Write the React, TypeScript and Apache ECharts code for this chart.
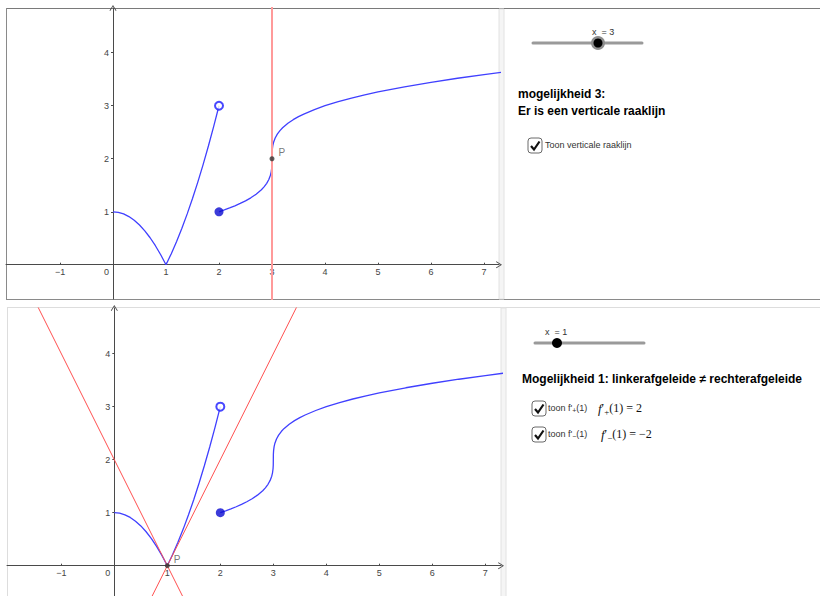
import React, { useEffect, useRef } from "react";
import * as echarts from "echarts";

// f(x) = 1 - x^2 on [0,1]
const arcX = [0, 0.1, 0.2, 0.3, 0.4, 0.5, 0.6, 0.7, 0.8, 0.9, 1];
const arcY = [1, 0.99, 0.96, 0.91, 0.84, 0.75, 0.64, 0.51, 0.36, 0.19, 0];
// f(x) = x^2 - 1 on [1,2)
const riseX = [1, 1.1, 1.2, 1.3, 1.4, 1.5, 1.6, 1.7, 1.8, 1.9, 2];
const riseY = [0, 0.21, 0.44, 0.69, 0.96, 1.25, 1.56, 1.89, 2.24, 2.61, 3];
// f(x) = 2 + cbrt(x - 3) on [2, ...)
const rootX = [2, 2.1, 2.2, 2.3, 2.4, 2.5, 2.6, 2.7, 2.8, 2.85, 2.9, 2.94, 2.97, 2.985, 2.995, 2.999, 3, 3.001, 3.005, 3.015, 3.03, 3.06, 3.1, 3.15, 3.2, 3.3, 3.4, 3.5, 3.6, 3.8, 4, 4.25, 4.5, 4.75, 5, 5.5, 6, 6.5, 7, 7.4];
const rootY = [1, 1.035, 1.072, 1.112, 1.157, 1.206, 1.263, 1.331, 1.415, 1.469, 1.536, 1.609, 1.689, 1.753, 1.829, 1.9, 2, 2.1, 2.171, 2.247, 2.311, 2.391, 2.464, 2.531, 2.585, 2.669, 2.737, 2.794, 2.843, 2.928, 3, 3.077, 3.145, 3.205, 3.26, 3.357, 3.442, 3.518, 3.587, 3.639];

const openPoint = [2, 3];
const filledPoint = [2, 1];
const pointTop = [3, 2];
const pointBottom = [1, 0];

const verticalX = [3, 3];
const verticalY = [-1, 6];
const tangentLeftX = [-2.5, 2];
const tangentLeftY = [7, -2];
const tangentRightX = [0, 4.5];
const tangentRightY = [-2, 7];

const xTickValues = [-1, 0, 1, 2, 3, 4, 5, 6, 7];
const yTickValues = [1, 2, 3, 4];

const zip = (xs: number[], ys: number[]) => xs.map((x, i) => [x, ys[i]]);

const FONT = '"Liberation Sans", Arial, sans-serif';
const SERIF = '"Liberation Serif", "DejaVu Serif", serif';
const BLUE = "#4040ff";
const AXIS = "#4a4a4a";
const ARROW = "path://M0,8 L5,0 L10,8 L9,8.6 L5,2.2 L1,8.6 Z";

function xAxisFor(gridIndex: number, min: number, max: number, offset: number) {
  return {
    type: "value",
    gridIndex,
    min,
    max,
    position: "bottom",
    offset,
    axisLine: {
      onZero: false,
      lineStyle: { color: AXIS, width: 1 },
      symbol: ["none", ARROW],
      symbolSize: [7, 6],
    },
    axisTick: { show: true, inside: true, length: 2, customValues: xTickValues.filter((v) => v !== 0), lineStyle: { color: AXIS } },
    axisLabel: {
      customValues: xTickValues,
      margin: 3,
      fontSize: 9,
      fontFamily: FONT,
      color: "#444",
      formatter: (v: number) => (v === 0 ? "{o|0}" : v < 0 ? "\u2212" + Math.abs(v) : String(v)),
      rich: { o: { width: 18, align: "left", fontSize: 9, fontFamily: FONT, color: "#444" } },
    },
    splitLine: { show: false },
  };
}

function yAxisFor(gridIndex: number, min: number, max: number, offset: number) {
  return {
    type: "value",
    gridIndex,
    min,
    max,
    position: "left",
    offset,
    axisLine: {
      onZero: false,
      lineStyle: { color: AXIS, width: 1 },
      symbol: ["none", ARROW],
      symbolSize: [7, 6],
    },
    axisTick: { show: true, length: 2, customValues: yTickValues, lineStyle: { color: AXIS } },
    axisLabel: {
      customValues: yTickValues,
      margin: 4,
      fontSize: 9,
      fontFamily: FONT,
      color: "#444",
    },
    splitLine: { show: false },
  };
}

function curveSeries(gridIndex: number, data: number[][]) {
  return {
    type: "line",
    xAxisIndex: gridIndex,
    yAxisIndex: gridIndex,
    data,
    showSymbol: false,
    symbol: "none",
    clip: true,
    lineStyle: { color: BLUE, width: 1.3 },
    silent: true,
    z: 3,
  };
}

function redLine(gridIndex: number, data: number[][], color: string, width: number) {
  return {
    type: "line",
    xAxisIndex: gridIndex,
    yAxisIndex: gridIndex,
    data,
    showSymbol: false,
    symbol: "none",
    clip: true,
    lineStyle: { color, width },
    silent: true,
    z: 4,
  };
}

function pointsSeries(gridIndex: number, pointP: number[]) {
  return [
    {
      type: "scatter",
      xAxisIndex: gridIndex,
      yAxisIndex: gridIndex,
      data: [openPoint],
      symbolSize: 8,
      itemStyle: { color: "#ffffff", borderColor: "#1a1aff", borderWidth: 2 },
      z: 6,
    },
    {
      type: "scatter",
      xAxisIndex: gridIndex,
      yAxisIndex: gridIndex,
      data: [filledPoint],
      symbolSize: 9,
      itemStyle: { color: "#0a0ad0" },
      z: 6,
    },
    {
      type: "scatter",
      xAxisIndex: gridIndex,
      yAxisIndex: gridIndex,
      data: [pointP],
      symbolSize: 5,
      itemStyle: { color: "#333333" },
      label: {
        show: true,
        formatter: "P",
        position: "right",
        offset: [-1, -6],
        fontSize: 10,
        fontFamily: FONT,
        color: "#555",
      },
      z: 7,
    },
  ];
}

function checkbox(x: number, y: number) {
  return [
    { type: "rect", shape: { x, y, width: 14, height: 15, r: 3 }, style: { fill: "#fff", stroke: "#6a6a6a", lineWidth: 1 }, silent: true },
    { type: "polyline", shape: { points: [[x + 3, y + 8], [x + 6, y + 11.5], [x + 11.5, y + 3.5]] }, style: { stroke: "#111", lineWidth: 2.2, fill: "none" }, silent: true },
  ];
}

function slider(x1: number, x2: number, y: number, knobX: number, label: string, labelX: number, halo: boolean) {
  const els: any[] = [
    { type: "line", shape: { x1, y1: y, x2, y2: y }, style: { stroke: "#9a9a9a", lineWidth: 3, lineCap: "round" }, silent: true },
  ];
  if (halo) els.push({ type: "circle", shape: { cx: knobX, cy: y, r: 7 }, style: { fill: "#8e8e8e" }, silent: true });
  els.push({ type: "circle", shape: { cx: knobX, cy: y, r: halo ? 4.5 : 5 }, style: { fill: "#000" }, silent: true });
  els.push({ type: "text", x: labelX, y: y - 11, style: { text: label, font: `9px ${FONT}`, fill: "#333", align: "center", verticalAlign: "middle" }, silent: true });
  return els;
}

function txt(x: number, y: number, text: string, font: string, fill = "#000") {
  return { type: "text", x, y, style: { text, font, fill, align: "left", verticalAlign: "middle" }, silent: true };
}

function mathText(x: number, y: number, sub: string, rhs: string) {
  return {
    type: "text",
    x,
    y,
    style: {
      text: `{f|f}{p|\u2032}{s|${sub}}{r|(1) = ${rhs}}`,
      align: "left",
      verticalAlign: "middle",
      rich: {
        f: { fontFamily: SERIF, fontStyle: "italic", fontSize: 13, fill: "#111", lineHeight: 16 },
        p: { fontFamily: SERIF, fontSize: 12, fill: "#111", lineHeight: 16 },
        s: { fontFamily: SERIF, fontSize: 9, fill: "#111", lineHeight: 16, verticalAlign: "bottom" },
        r: { fontFamily: SERIF, fontSize: 12, fill: "#111", lineHeight: 16 },
      },
    },
    silent: true,
  };
}

function toonLabel(x: number, y: number, sub: string) {
  return {
    type: "text",
    x,
    y,
    style: {
      text: `{a|toon f'}{s|${sub}}{a|(1)}`,
      align: "left",
      verticalAlign: "middle",
      rich: {
        a: { fontFamily: FONT, fontSize: 9, fill: "#333", lineHeight: 12 },
        s: { fontFamily: FONT, fontSize: 7, fill: "#333", lineHeight: 12, verticalAlign: "bottom" },
      },
    },
    silent: true,
  };
}

export default function App() {
  const ref = useRef<HTMLDivElement>(null);
  useEffect(() => {
    if (!ref.current) return;
    const chart = echarts.init(ref.current, undefined, { renderer: "svg" });

    const graphic: any[] = [
      // top panel frame
      { type: "line", shape: { x1: 6, y1: 8.5, x2: 820, y2: 8.5 }, style: { stroke: "#7a7a7a", lineWidth: 1 }, silent: true },
      { type: "line", shape: { x1: 6.5, y1: 8, x2: 6.5, y2: 299 }, style: { stroke: "#8a8a8a", lineWidth: 1 }, silent: true },
      { type: "line", shape: { x1: 6, y1: 299.5, x2: 820, y2: 299.5 }, style: { stroke: "#8a8a8a", lineWidth: 1 }, silent: true },
      { type: "rect", shape: { x: 499, y: 9, width: 5, height: 290 }, style: { fill: "#f5f5f5", stroke: "#e2e2e2", lineWidth: 1 }, silent: true },
      // bottom panel frame
      { type: "line", shape: { x1: 7, y1: 307.5, x2: 820, y2: 307.5 }, style: { stroke: "#dddddd", lineWidth: 1 }, silent: true },
      { type: "line", shape: { x1: 7.5, y1: 307, x2: 7.5, y2: 596 }, style: { stroke: "#dddddd", lineWidth: 1 }, silent: true },
      { type: "rect", shape: { x: 501, y: 308, width: 5, height: 290 }, style: { fill: "#f5f5f5", stroke: "#e2e2e2", lineWidth: 1 }, silent: true },
      // top right panel
      ...slider(533, 642, 43, 598, "x  = 3", 603, true),
      txt(518, 94, "mogelijkheid 3:", `bold 12px ${FONT}`),
      txt(518, 111, "Er is een verticale raaklijn", `bold 12px ${FONT}`),
      ...checkbox(528, 138),
      txt(545, 145, "Toon verticale raaklijn", `9px ${FONT}`, "#333"),
      // bottom right panel
      ...slider(535, 644, 343, 557, "x  = 1", 556, false),
      txt(522, 379, "Mogelijkheid 1: linkerafgeleide \u2260 rechterafgeleide", `bold 12px ${FONT}`),
      ...checkbox(532, 401),
      toonLabel(548, 408, "+"),
      mathText(598, 408, "+", "2"),
      ...checkbox(532, 427),
      toonLabel(548, 434, "\u2212"),
      mathText(601, 434, "\u2212", "\u22122"),
    ];

    chart.setOption({
      animation: false,
      backgroundColor: "#ffffff",
      grid: [
        { left: 6, top: 8, width: 493, height: 291, outerBoundsMode: "none", containLabel: false },
        { left: 7, top: 308, width: 494, height: 288, outerBoundsMode: "none", containLabel: false },
      ],
      xAxis: [xAxisFor(0, -2.019, 7.283, -34.3), xAxisFor(1, -2.025, 7.296, -30.3)],
      yAxis: [yAxisFor(0, -0.645, 4.843, -107), yAxisFor(1, -0.572, 4.862, -107.3)],
      series: [
        curveSeries(0, zip(arcX, arcY)),
        curveSeries(0, zip(riseX, riseY)),
        curveSeries(0, zip(rootX, rootY)),
        redLine(0, zip(verticalX, verticalY), "#ff9a9a", 2),
        ...pointsSeries(0, pointTop),
        curveSeries(1, zip(arcX, arcY)),
        curveSeries(1, zip(riseX, riseY)),
        curveSeries(1, zip(rootX, rootY)),
        redLine(1, zip(tangentLeftX, tangentLeftY), "#ff5050", 1),
        redLine(1, zip(tangentRightX, tangentRightY), "#ff5050", 1),
        ...pointsSeries(1, pointBottom),
      ],
      graphic,
    });
    return () => chart.dispose();
  }, []);

  return <div ref={ref} style={{ position: "absolute", left: 0, top: 0, width: 820, height: 596 }} />;
}
